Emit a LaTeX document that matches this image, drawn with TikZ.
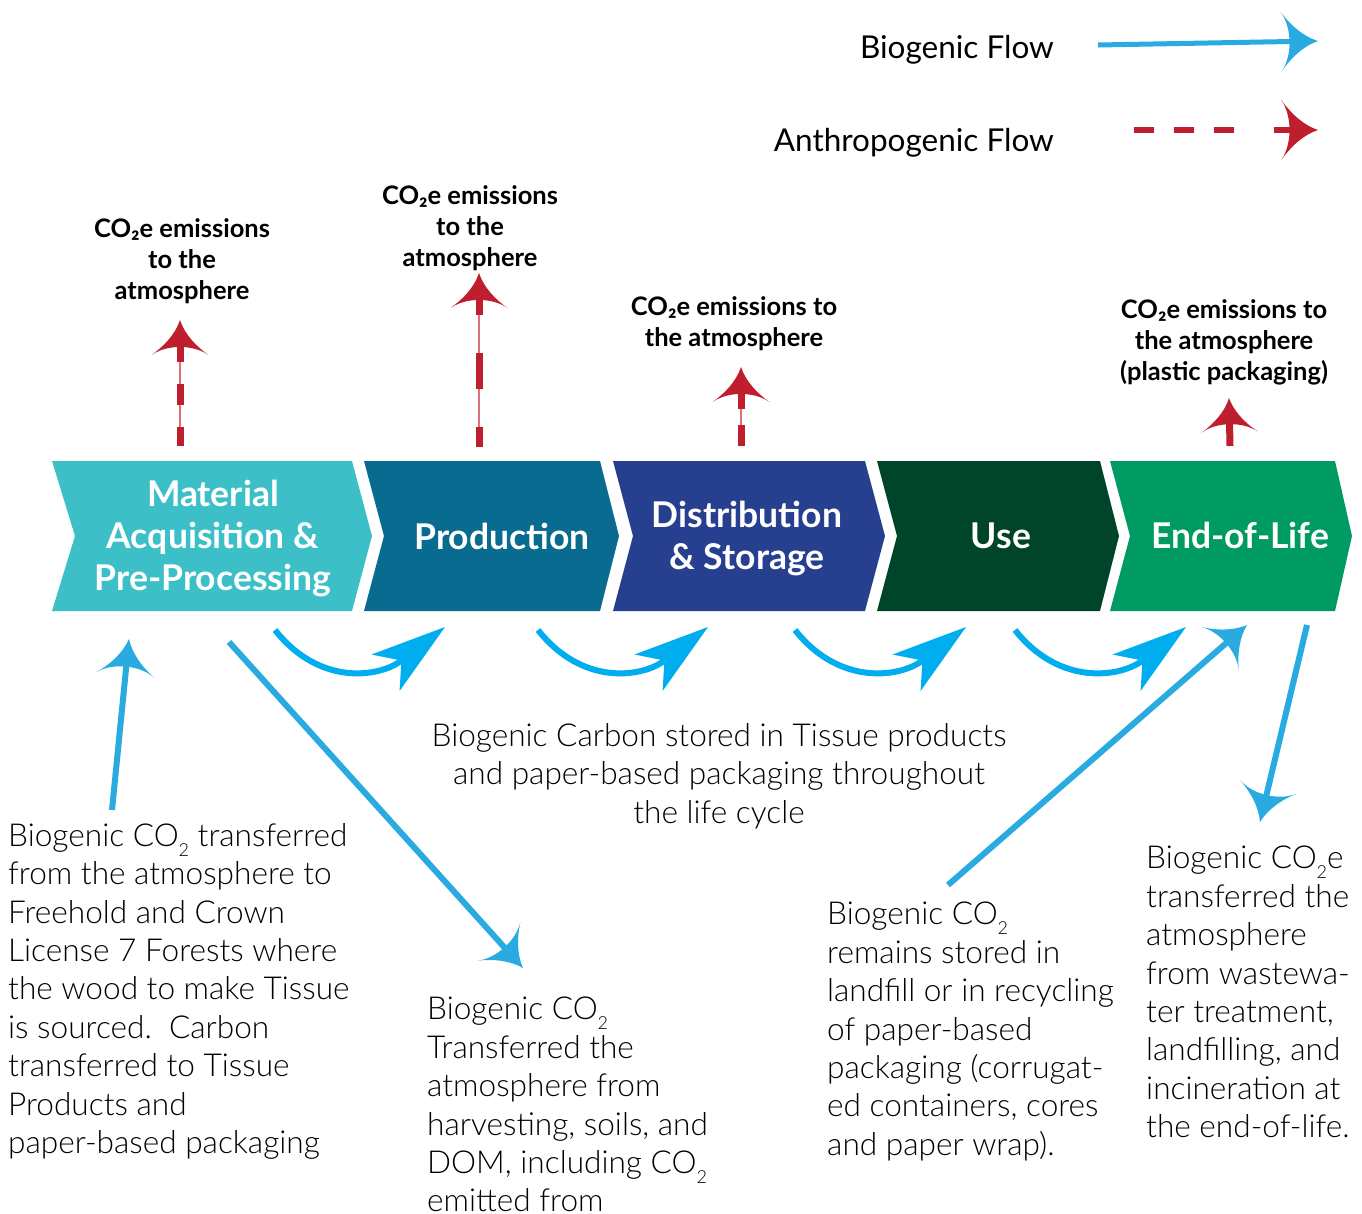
\documentclass[tikz,border=0pt]{standalone}
\usepackage{fontspec}
\setmainfont{Lato}
\newfontfamily\latolight{Lato Light}
\usetikzlibrary{arrows.meta}

\definecolor{matcol}{RGB}{61,191,200}
\definecolor{prodcol}{RGB}{8,107,143}
\definecolor{distcol}{RGB}{39,63,143}
\definecolor{usecol}{RGB}{0,69,41}
\definecolor{eolcol}{RGB}{0,154,99}
\definecolor{bioblue}{RGB}{41,171,226}
\definecolor{storeblue}{RGB}{0,174,239}
\definecolor{anthred}{RGB}{190,30,45}
\definecolor{thinred}{RGB}{222,112,122}

% small lowered "2" for CO2 in running text
\newcommand{\lowtwo}{\raisebox{-10pt}{\fontsize{18}{18}\selectfont 2}}

% swept arrow head with concave flanks
\pgfdeclarearrow{
  name = Swept,
  parameters = {\the\pgfarrowlength,\the\pgfarrowwidth},
  setup code = {
    \pgfarrowssettipend{0pt}
    \pgfarrowssetbackend{-\pgfarrowlength}
    \pgfarrowssetlineend{-0.7\pgfarrowlength}
    \pgfarrowssetvisualbackend{-0.77\pgfarrowlength}
    \pgfarrowssavethe\pgfarrowlength
    \pgfarrowssavethe\pgfarrowwidth
  },
  drawing code = {
    \pgfpathmoveto{\pgfpointorigin}
    \pgfpathcurveto{\pgfpoint{-0.4\pgfarrowlength}{0.08\pgfarrowwidth}}{\pgfpoint{-0.75\pgfarrowlength}{0.28\pgfarrowwidth}}{\pgfpoint{-\pgfarrowlength}{0.5\pgfarrowwidth}}
    \pgfpathcurveto{\pgfpoint{-0.82\pgfarrowlength}{0.34\pgfarrowwidth}}{\pgfpoint{-0.77\pgfarrowlength}{0.15\pgfarrowwidth}}{\pgfpoint{-0.77\pgfarrowlength}{0pt}}
    \pgfpathcurveto{\pgfpoint{-0.77\pgfarrowlength}{-0.15\pgfarrowwidth}}{\pgfpoint{-0.82\pgfarrowlength}{-0.34\pgfarrowwidth}}{\pgfpoint{-\pgfarrowlength}{-0.5\pgfarrowwidth}}
    \pgfpathcurveto{\pgfpoint{-0.75\pgfarrowlength}{-0.28\pgfarrowwidth}}{\pgfpoint{-0.4\pgfarrowlength}{-0.08\pgfarrowwidth}}{\pgfpointorigin}
    \pgfpathclose
    \pgfusepathqfill
  },
  defaults = {length=36pt, width=58pt}
}

\begin{document}
\begin{tikzpicture}[x=1pt, y=-1pt,
  stagetext/.style={text=white, font=\fontsize{35.5}{42}\selectfont\bfseries, align=center, inner sep=0pt},
  emitlabel/.style={font=\fontsize{25.5}{31}\selectfont\bfseries, align=center, inner sep=0pt, anchor=north},
  bodytext/.style={font=\latolight\fontsize{31.6}{38.4}\selectfont, align=left, inner sep=0pt, anchor=north west},
  legendtext/.style={font=\fontsize{31.5}{36}\selectfont, inner sep=0pt, anchor=base east},
  bioflow/.style={draw=bioblue, line width=6pt, -{Swept[length=36pt,width=58pt]}},
  storeflow/.style={draw=storeblue, line width=6pt, -{Stealth[length=75pt,width=46pt,inset=20pt,line width=0pt]}},
  anthflow/.style={draw=anthred, line width=7pt, -{Swept[length=35pt,width=57pt]}},
  anththin/.style={draw=thinred, line width=1.5pt, shorten >=20pt}
]
\useasboundingbox (0,0) rectangle (1362,1213);
\fill[white] (0,0) rectangle (1362,1213);

% ---------------- legend ----------------
\node[legendtext] (lgbio) at (1054,58) {Biogenic Flow};
\node[legendtext] (lganth) at (1054,151) {Anthropogenic Flow};
\coordinate (lb1) at (1098,45);
\coordinate (lb2) at (1318,41);
\coordinate (lr1) at (1134,130);
\coordinate (lr2) at (1318,130);
\draw[bioflow, line width=5pt, -{Swept[length=37pt,width=60pt]}] (lb1) -- (lb2);
\draw[anthflow, line width=6pt, dash pattern=on 20pt off 20pt on 20pt off 20pt on 20pt off 40pt on 40pt,
      -{Swept[length=37pt,width=61pt]}] (lr1) -- (lr2);

% ---------------- life-cycle stages ----------------
\fill[matcol]  (52,461) -- (352,461) -- (372,536) -- (352,611) -- (52,611) -- (75,536) -- cycle;
\fill[prodcol] (364,461) -- (600,461) -- (619,536) -- (600,611) -- (364,611) -- (384,536) -- cycle;
\fill[distcol] (613,461) -- (865,461) -- (885,536) -- (865,611) -- (613,611) -- (633,536) -- cycle;
\fill[usecol]  (877,461) -- (1100,461) -- (1119,536) -- (1100,611) -- (877,611) -- (897,536) -- cycle;
\fill[eolcol]  (1110,461) -- (1335,461) -- (1352,536) -- (1335,611) -- (1110,611) -- (1130,536) -- cycle;

\node[stagetext] (mat)  at (213,539) {Material\\Acquisition \&\\Pre-Processing};
\node[stagetext] (prod) at (502,536) {Production};
\node[stagetext] (dist) at (747,538) {Distribution\\\& Storage};
\node[stagetext] (use)  at (1001,536) {Use};
\node[stagetext] (eol)  at (1240,535) {End-of-Life};

% ---------------- emissions to the atmosphere ----------------
\node[emitlabel] (em1) at (182,218) {CO₂e emissions\\to the\\atmosphere};
\node[emitlabel] (em2) at (470,185) {CO₂e emissions\\to the\\atmosphere};
\node[emitlabel] (em3) at (734,296) {CO₂e emissions to\\the atmosphere};
\node[emitlabel] (em4) at (1224,299) {CO₂e emissions to\\the atmosphere\\(plastic packaging)};

\coordinate (e1s) at (180,446);  \coordinate (e1e) at (180,320);
\coordinate (e2s) at (479,447);  \coordinate (e2e) at (479,273);
\coordinate (e3s) at (741,446);  \coordinate (e3e) at (741,367);
\coordinate (e4s) at (1230,446); \coordinate (e4e) at (1229,398);

\draw[anththin] (e1s) -- (e1e);
\draw[anththin] (e2s) -- (e2e);
\draw[anththin] (e3s) -- (e3e);
\draw[anthflow, dash pattern=on 19pt off 22pt on 21pt off 22pt on 40pt] (e1s) -- (e1e);
\draw[anthflow, dash pattern=on 20pt off 38pt on 36pt off 38pt on 40pt] (e2s) -- (e2e);
\draw[anthflow, dash pattern=on 21pt off 16pt on 40pt] (e3s) -- (e3e);
\draw[anthflow, -{Swept[length=34pt,width=56pt]}] (e4s) -- (e4e);

% ---------------- carbon stored along the life cycle ----------------
\coordinate (c1s) at (275,630);  \coordinate (c1e) at (445,627);
\coordinate (c2s) at (538,630);  \coordinate (c2e) at (708,627);
\coordinate (c3s) at (795,630);  \coordinate (c3e) at (966,627);
\coordinate (c4s) at (1015,630); \coordinate (c4e) at (1186,627);
\draw[storeflow] (c1s) .. controls +(45,57) and +(-65,50) .. (c1e);
\draw[storeflow] (c2s) .. controls +(45,57) and +(-65,50) .. (c2e);
\draw[storeflow] (c3s) .. controls +(45,57) and +(-65,50) .. (c3e);
\draw[storeflow] (c4s) .. controls +(45,57) and +(-65,50) .. (c4e);

\node[bodytext, align=center, anchor=north] (stored) at (719,723)
  {Biogenic Carbon stored in Tissue products\\and paper-based packaging throughout\\the life cycle};

% ---------------- biogenic transfers ----------------
\coordinate (b1s) at (112,810);  \coordinate (b1e) at (129,639);
\coordinate (b2s) at (229,642);  \coordinate (b2e) at (523,968);
\coordinate (b3s) at (948,885);  \coordinate (b3e) at (1247,625);
\coordinate (b4s) at (1307,625); \coordinate (b4e) at (1260,822);
\draw[bioflow] (b1s) -- (b1e);
\draw[bioflow] (b2s) -- (b2e);
\draw[bioflow] (b3s) -- (b3e);
\draw[bioflow] (b4s) -- (b4e);

\node[bodytext] (forest) at (8,823)
  {Biogenic CO\lowtwo{} transferred\\from the atmosphere to\\Freehold and Crown\\License 7 Forests where\\the wood to make Tissue\\is sourced.\ \ Carbon\\transferred to Tissue\\Products and\\paper-based packaging};
\node[bodytext] (harvest) at (427,997)
  {Biogenic CO\lowtwo\\Transferred the\\atmosphere from\\harvesting, soils, and\\DOM, including CO\lowtwo\\emitted from};
\node[bodytext] (landfill) at (827,902)
  {Biogenic CO\lowtwo\\remains stored in\\landfill or in recycling\\of paper-based\\packaging (corrugat-\\ed containers, cores\\and paper wrap).};
\node[bodytext] (waste) at (1146,846)
  {Biogenic CO\lowtwo{}e\\transferred the\\atmosphere\\from wastewa-\\ter treatment,\\landfilling, and\\incineration at\\the end-of-life.};
\end{tikzpicture}
\end{document}
